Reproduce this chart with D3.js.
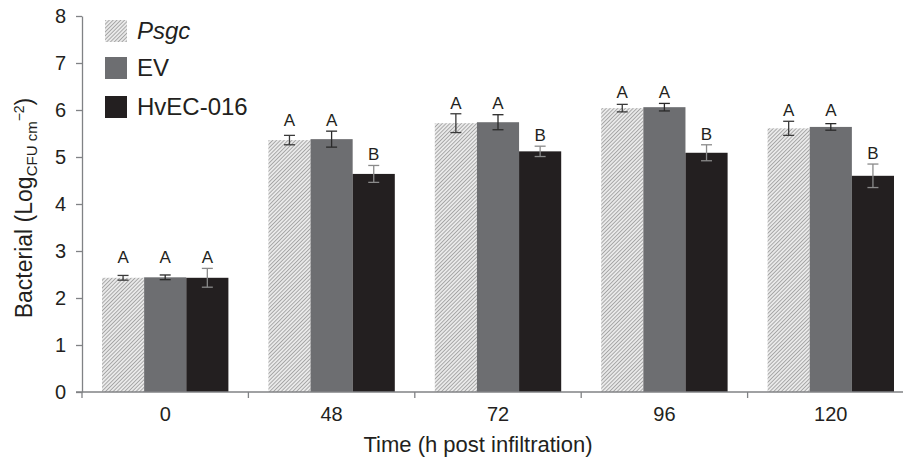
<!DOCTYPE html>
<html>
<head>
<meta charset="utf-8">
<script src="https://cdn.jsdelivr.net/npm/d3@7"></script>
<style>
  body { margin: 0; background: #fff; }
  svg { display: block; font-family: "Liberation Sans", Arial, sans-serif; }
  .axis path, .axis line { stroke: #808285; }
  .axis text { fill: #231f20; font-size: 20px; }
</style>
</head>
<body>
<div id="chart"></div>
<script>
// kategori waktu (jam setelah infiltrasi)
const categories = ["0", "48", "72", "96", "120"];
const seriesNames = ["Psgc", "EV", "HvEC-016"];

// nilai rata-rata dan galat (Log CFU cm^-2)
const psgcMean = [2.43, 5.36, 5.72, 6.04, 5.61];
const psgcErr  = [0.05, 0.10, 0.20, 0.08, 0.15];
const evMean   = [2.44, 5.38, 5.74, 6.06, 5.64];
const evErr    = [0.05, 0.17, 0.16, 0.08, 0.07];
const hvecMean = [2.43, 4.64, 5.12, 5.09, 4.60];
const hvecErr  = [0.20, 0.18, 0.11, 0.17, 0.25];

// huruf signifikansi
const psgcLetters = ["A", "A", "A", "A", "A"];
const evLetters   = ["A", "A", "A", "A", "A"];
const hvecLetters = ["A", "B", "B", "B", "B"];

const yTicks = [0, 1, 2, 3, 4, 5, 6, 7, 8];

const means = [psgcMean, evMean, hvecMean];
const errs = [psgcErr, evErr, hvecErr];
const letters = [psgcLetters, evLetters, hvecLetters];

const data = [];
categories.forEach((c, i) => {
  seriesNames.forEach((s, j) => {
    data.push({ cat: c, series: s, mean: means[j][i], err: errs[j][i], letter: letters[j][i] });
  });
});

const W = 903, H = 460;
const svg = d3.select("#chart").append("svg")
  .attr("width", W)
  .attr("height", H);

// pola arsir untuk Psgc
const defs = svg.append("defs");
const pat = defs.append("pattern")
  .attr("id", "hatch")
  .attr("patternUnits", "userSpaceOnUse")
  .attr("width", 2.7)
  .attr("height", 2.7)
  .attr("patternTransform", "rotate(45)");
pat.append("rect").attr("width", 2.7).attr("height", 2.7).attr("fill", "#e9e9e9");
pat.append("rect").attr("width", 0.9).attr("height", 2.7).attr("fill", "#a4a4a4");

const fills = { "Psgc": "url(#hatch)", "EV": "#6d6e71", "HvEC-016": "#231f20" };
const errColor = { "Psgc": "#3a3a3a", "EV": "#2a2a2a", "HvEC-016": "#8a8a8a" };

const x0 = d3.scaleBand()
  .domain(categories)
  .range([82, 914])
  .padding(0);

const x1 = d3.scaleBand()
  .domain(seriesNames)
  .range([20, x0.bandwidth() - 20])
  .padding(0);

const y = d3.scaleLinear()
  .domain([0, 8])
  .range([392, 16]);

// batang
svg.append("g").selectAll("rect")
  .data(data)
  .enter()
  .append("rect")
  .attr("x", d => x0(d.cat) + x1(d.series))
  .attr("width", x1.bandwidth())
  .attr("y", d => y(d.mean))
  .attr("height", d => y(0) - y(d.mean))
  .attr("fill", d => fills[d.series]);

// error bar
const eb = svg.append("g").selectAll("g")
  .data(data)
  .enter()
  .append("g")
  .attr("stroke", d => errColor[d.series])
  .attr("stroke-width", 1.3);

const cx = d => x0(d.cat) + x1(d.series) + x1.bandwidth() / 2;
eb.append("line")
  .attr("x1", cx).attr("x2", cx)
  .attr("y1", d => y(d.mean + d.err))
  .attr("y2", d => y(d.mean - d.err));
eb.append("line")
  .attr("x1", d => cx(d) - 5.5).attr("x2", d => cx(d) + 5.5)
  .attr("y1", d => y(d.mean + d.err)).attr("y2", d => y(d.mean + d.err));
eb.append("line")
  .attr("x1", d => cx(d) - 5.5).attr("x2", d => cx(d) + 5.5)
  .attr("y1", d => y(d.mean - d.err)).attr("y2", d => y(d.mean - d.err));

// huruf: sejajar untuk huruf yang sama dalam satu kelompok
svg.append("g").selectAll("text")
  .data(data)
  .enter()
  .append("text")
  .attr("x", cx)
  .attr("y", d => {
    const top = d3.max(data.filter(e => e.cat === d.cat && e.letter === d.letter), e => e.mean + e.err);
    return y(top) - 5;
  })
  .attr("text-anchor", "middle")
  .attr("font-size", "17px")
  .attr("fill", "#231f20")
  .text(d => d.letter);

// sumbu Y
svg.append("g")
  .attr("class", "axis")
  .attr("transform", "translate(82,0)")
  .call(d3.axisLeft(y).tickValues(yTicks).tickSizeInner(6).tickSizeOuter(0).tickPadding(10))
  .call(g => g.selectAll("path, line").attr("stroke-width", 1.3));

// sumbu X
const xAxis = svg.append("g")
  .attr("class", "axis")
  .attr("transform", "translate(0,392)");
xAxis.append("line")
  .attr("x1", 76).attr("x2", x0.range()[1])
  .attr("stroke-width", 1.3);
xAxis.selectAll(".sep")
  .data(categories.map(c => x0(c)).concat([x0.range()[1]]))
  .enter()
  .append("line")
  .attr("class", "sep")
  .attr("x1", d => d).attr("x2", d => d)
  .attr("y1", 0).attr("y2", 6)
  .attr("stroke-width", 1.3);
xAxis.call(d3.axisBottom(x0).tickSize(0).tickPadding(15))
  .call(g => g.select(".domain").remove());

// judul sumbu
svg.append("text")
  .attr("x", 478)
  .attr("y", 452)
  .attr("text-anchor", "middle")
  .attr("font-size", "22px")
  .attr("fill", "#231f20")
  .text("Time (h post infiltration)");

const yl = svg.append("text")
  .attr("transform", "translate(32,208) rotate(-90)")
  .attr("text-anchor", "middle")
  .attr("font-size", "23px")
  .attr("fill", "#231f20");
yl.append("tspan").text("Bacterial (Log");
yl.append("tspan").attr("font-size", "15px").attr("dy", 5).text("CFU cm");
yl.append("tspan").attr("font-size", "14px").attr("dy", -13).text("\u22122");
yl.append("tspan").attr("dy", 8).text(")");

// legenda
const legend = svg.append("g").selectAll("g")
  .data(seriesNames)
  .enter()
  .append("g")
  .attr("transform", (d, i) => `translate(105,${[20, 57, 96][i]})`);
legend.append("rect")
  .attr("width", 22).attr("height", 22)
  .attr("fill", d => fills[d]);
legend.append("text")
  .attr("x", 32).attr("y", 19)
  .attr("font-size", "24px")
  .attr("fill", "#231f20")
  .attr("font-style", d => d === "Psgc" ? "italic" : "normal")
  .text(d => d);
</script>
</body>
</html>
